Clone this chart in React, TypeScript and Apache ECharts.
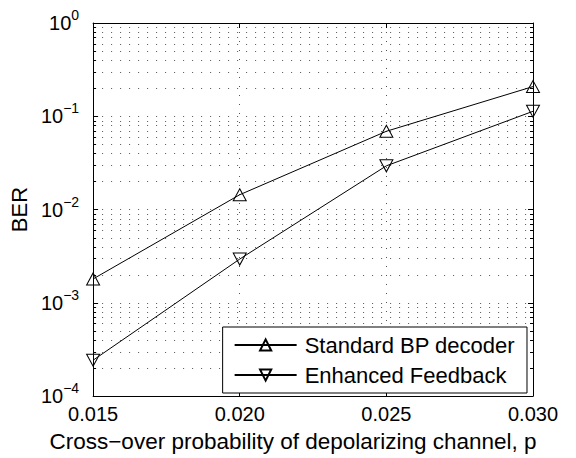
import React, { useEffect, useRef } from "react";
import * as echarts from "echarts";

const xValues = [0.015, 0.02, 0.025, 0.03];
const standardBP = [1.8e-3, 1.44e-2, 6.9e-2, 2.08e-1];
const enhancedFeedback = [2.42e-4, 2.94e-3, 2.94e-2, 1.13e-1];
const seriesNames = ["Standard BP decoder", "Enhanced Feedback"];
const X_MIN = 0.015;
const X_MAX = 0.03;
const Y_MIN = 1e-4;
const Y_MAX = 1;
const minorMultipliers = [2, 3, 4, 5, 6, 7, 8, 9];
const decades = [1e-4, 1e-3, 1e-2, 1e-1];

const FONT = "'Liberation Sans', Arial, Helvetica, sans-serif";
const UP = "path://M5,0 L10,10 L0,10 Z";
const DOWN = "path://M0,0 L10,0 L5,10 Z";

export default function App() {
  const ref = useRef<HTMLDivElement>(null);
  useEffect(() => {
    if (!ref.current) return;
    const chart = echarts.init(ref.current, undefined, { renderer: "svg" });
    const minorData: number[][] = [];
    decades.forEach((d) => minorMultipliers.forEach((m) => minorData.push([X_MIN, d * m])));
    const dotted = { color: "#555", width: 1, type: [1, 8] as number[] };

    const option: any = {
      animation: false,
      backgroundColor: "#fff",
      grid: { left: 90, top: 23, right: 43, bottom: 58, containLabel: false },
      xAxis: [
        {
          type: "value",
          min: X_MIN,
          max: X_MAX,
          interval: 0.005,
          name: "Cross\u2212over probability of depolarizing channel, p",
          nameLocation: "middle",
          nameGap: 34,
          nameTextStyle: { fontFamily: FONT, fontSize: 22.5, color: "#000", padding: [0, 40, 0, 0] },
          axisLine: { show: true, onZero: false, lineStyle: { color: "#000", width: 1 } },
          axisTick: { show: true, inside: true, length: 5, lineStyle: { color: "#000" } },
          axisLabel: {
            fontFamily: FONT,
            fontSize: 20,
            color: "#000",
            margin: 8,
            formatter: (v: number) => v.toFixed(3),
          },
          splitLine: { show: true, lineStyle: dotted },
        },
        {
          type: "value",
          position: "top",
          min: X_MIN,
          max: X_MAX,
          interval: 0.005,
          axisLine: { show: true, onZero: false, lineStyle: { color: "#000", width: 1 } },
          axisTick: { show: true, inside: true, length: 5, lineStyle: { color: "#000" } },
          axisLabel: { show: false },
          splitLine: { show: false },
        },
      ],
      yAxis: [
        {
          type: "log",
          logBase: 10,
          min: Y_MIN,
          max: Y_MAX,
          name: "BER",
          nameLocation: "middle",
          nameGap: 56,
          nameTextStyle: { fontFamily: FONT, fontSize: 22, color: "#000" },
          axisLine: { show: true, onZero: false, lineStyle: { color: "#000", width: 1 } },
          axisTick: { show: true, inside: true, length: 5, lineStyle: { color: "#000" } },
          axisLabel: {
            margin: 14,
            formatter: (v: number) => {
              const e = Math.round(Math.log10(v));
              const es = e < 0 ? "\u2212" + -e : String(e);
              return "{b|10}{s|" + es + "}";
            },
            rich: {
              b: { fontFamily: FONT, fontSize: 20, color: "#000" },
              s: { fontFamily: FONT, fontSize: 14, color: "#000", padding: [0, 0, 16, 0] },
            },
          },
          splitLine: { show: true, lineStyle: dotted },
        },
        {
          type: "log",
          logBase: 10,
          position: "right",
          min: Y_MIN,
          max: Y_MAX,
          axisLine: { show: true, onZero: false, lineStyle: { color: "#000", width: 1 } },
          axisTick: { show: true, inside: true, length: 5, lineStyle: { color: "#000" } },
          axisLabel: { show: false },
          splitLine: { show: false },
        },
      ],
      legend: {
        data: seriesNames,
        orient: "vertical",
        right: 49,
        bottom: 65,
        backgroundColor: "#fff",
        borderColor: "#000",
        borderWidth: 1,
        borderRadius: 0,
        padding: [7, 12, 7, 11],
        itemGap: 8,
        itemWidth: 62,
        itemHeight: 14,
        textStyle: { fontFamily: FONT, fontSize: 22, color: "#000", padding: [0, 0, 0, 3] },
      },
      series: [
        {
          type: "custom",
          name: "minor",
          z: 1,
          silent: true,
          data: minorData,
          encode: { x: 0, y: 1 },
          clip: false,
          renderItem: (params: any, api: any) => {
            const v = api.value(1);
            const p = api.coord([X_MIN, v]);
            const cs = params.coordSys;
            const x0 = cs.x;
            const x1 = cs.x + cs.width;
            const y = Math.round(p[1]) + 0.5;
            return {
              type: "group",
              children: [
                {
                  type: "line",
                  shape: { x1: x0, y1: y, x2: x1, y2: y },
                  style: { stroke: "#555", lineWidth: 1, lineDash: [1, 8] },
                },
                {
                  type: "line",
                  shape: { x1: x0, y1: y, x2: x0 + 3, y2: y },
                  style: { stroke: "#000", lineWidth: 1 },
                },
                {
                  type: "line",
                  shape: { x1: x1 - 3, y1: y, x2: x1, y2: y },
                  style: { stroke: "#000", lineWidth: 1 },
                },
              ],
            };
          },
        },
        {
          type: "line",
          name: seriesNames[0],
          z: 3,
          data: xValues.map((x, i) => [x, standardBP[i]]),
          symbol: UP,
          symbolSize: [13, 12],
          showAllSymbol: true,
          lineStyle: { color: "#000", width: 1 },
          itemStyle: { color: "transparent", borderColor: "#000", borderWidth: 1 },
        },
        {
          type: "line",
          name: seriesNames[1],
          z: 3,
          data: xValues.map((x, i) => [x, enhancedFeedback[i]]),
          symbol: DOWN,
          symbolSize: [13, 12],
          showAllSymbol: true,
          lineStyle: { color: "#000", width: 1 },
          itemStyle: { color: "transparent", borderColor: "#000", borderWidth: 1 },
        },
      ],
    };
    chart.setOption(option);
    return () => chart.dispose();
  }, []);
  return (
    <div
      ref={ref}
      style={{ position: "absolute", left: 0, top: 0, width: 576, height: 458 }}
    />
  );
}
